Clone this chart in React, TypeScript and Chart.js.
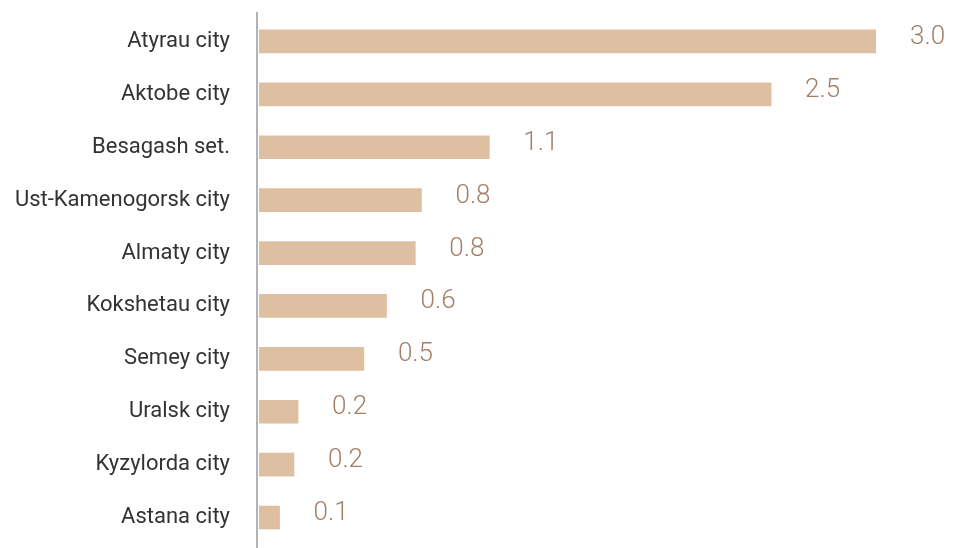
import React, { useEffect, useRef } from "react";
import { Chart, registerables } from "chart.js";

Chart.register(...registerables);

const categories = [
  "Atyrau city",
  "Aktobe city",
  "Besagash set.",
  "Ust-Kamenogorsk city",
  "Almaty city",
  "Kokshetau city",
  "Semey city",
  "Uralsk city",
  "Kyzylorda city",
  "Astana city",
];
const values = [3.0, 2.49, 1.12, 0.79, 0.76, 0.62, 0.51, 0.19, 0.17, 0.1];
const valueLabels = ["3.0", "2.5", "1.1", "0.8", "0.8", "0.6", "0.5", "0.2", "0.2", "0.1"];

const BAR_COLOR = "#dfbfa1";
const LABEL_COLOR = "#a37f68";
const TEXT_COLOR = "#333333";
const AXIS_COLOR = "#b3b3b3";

export default function App() {
  const ref = useRef<HTMLCanvasElement | null>(null);

  useEffect(() => {
    document.body.style.margin = "0";
    const canvas = ref.current;
    if (!canvas) return;

    const valueLabelPlugin = {
      id: "valueLabels",
      afterDatasetsDraw(chart: any) {
        const ctx = chart.ctx;
        const meta = chart.getDatasetMeta(0);
        ctx.save();
        ctx.font = "300 26px Roboto";
        ctx.fillStyle = LABEL_COLOR;
        ctx.textAlign = "left";
        ctx.textBaseline = "middle";
        meta.data.forEach((bar: any, i: number) => {
          ctx.fillText(valueLabels[i], bar.x + 34, bar.y - 4);
        });
        ctx.restore();
      },
    };

    const axisLinePlugin = {
      id: "axisLine",
      beforeDatasetsDraw(chart: any) {
        const ctx = chart.ctx;
        const x = chart.chartArea.left - 2;
        ctx.save();
        ctx.strokeStyle = AXIS_COLOR;
        ctx.lineWidth = 2;
        ctx.beginPath();
        ctx.moveTo(x, 12);
        ctx.lineTo(x, 548);
        ctx.stroke();
        ctx.restore();
      },
    };

    const chart = new Chart(canvas, {
      type: "bar",
      data: {
        labels: categories,
        datasets: [
          {
            data: values,
            backgroundColor: BAR_COLOR,
            barThickness: 23,
            borderWidth: 0,
          },
        ],
      },
      options: {
        indexAxis: "y",
        animation: false,
        responsive: false,
        maintainAspectRatio: false,
        layout: { autoPadding: false, padding: { left: 0, right: 80, top: 15, bottom: 4 } },
        plugins: {
          legend: { display: false },
          tooltip: { enabled: false },
        },
        scales: {
          x: {
            display: false,
            min: 0,
            max: 3.0,
          },
          y: {
            grid: { display: false, drawTicks: false },
            border: { display: false },
            ticks: {
              color: TEXT_COLOR,
              font: { family: "Roboto", size: 22 },
              padding: 29,
            },
            afterFit(scale: any) {
              scale.width = 259;
              scale.paddingTop = 0;
              scale.paddingBottom = 0;
            },
          },
        },
      },
      plugins: [valueLabelPlugin, axisLinePlugin],
    });

    return () => chart.destroy();
  }, []);

  return (
    <div style={{ position: "absolute", left: 0, top: 0, width: 956, height: 548 }}>
      <canvas ref={ref} width={956} height={548} style={{ width: 956, height: 548, display: "block" }} />
    </div>
  );
}
